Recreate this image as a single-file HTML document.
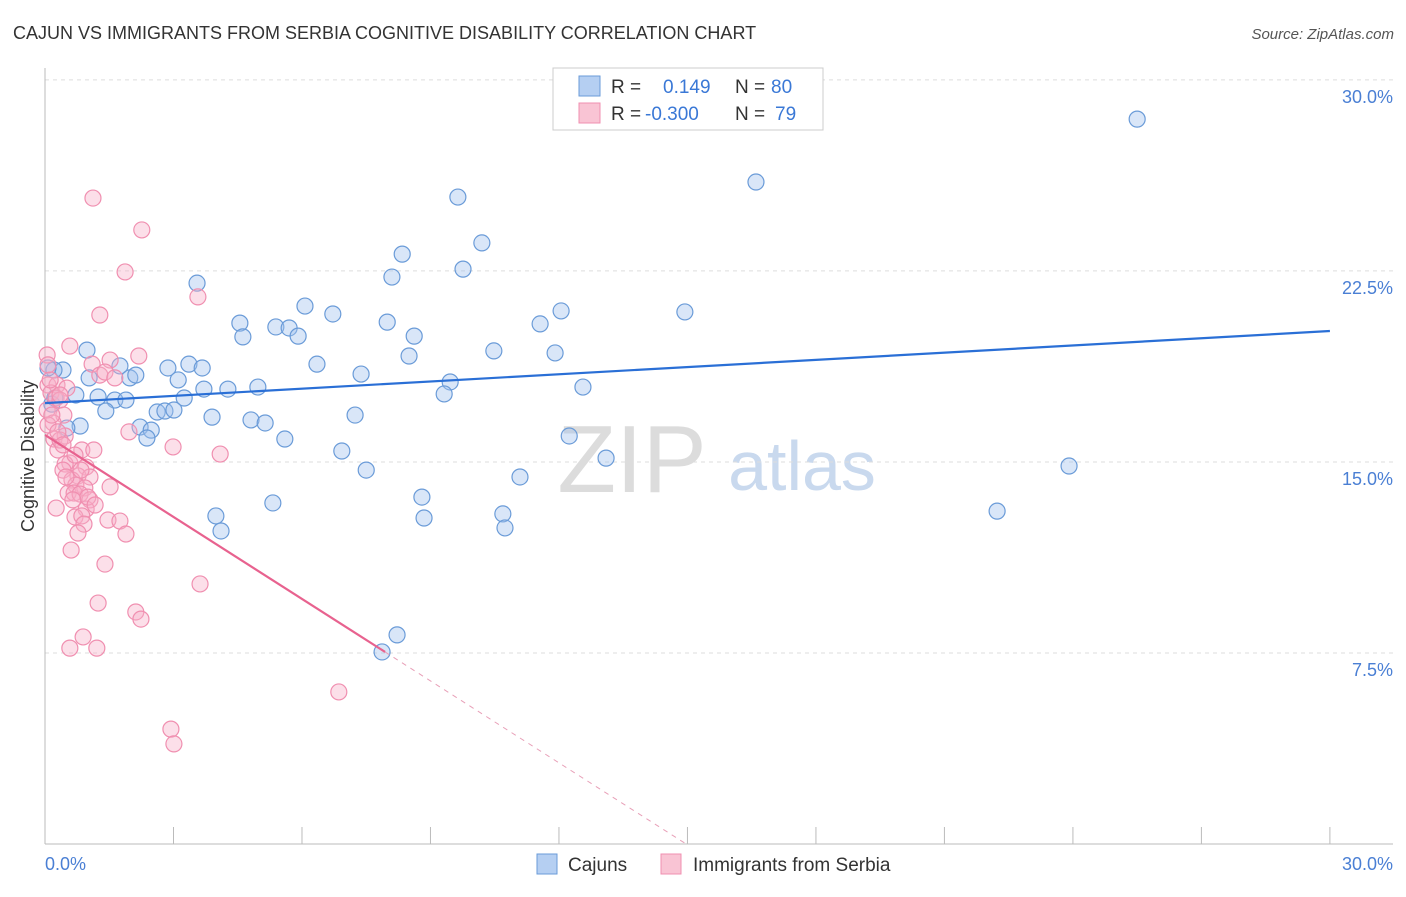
<!DOCTYPE html>
<html><head><meta charset="utf-8"><style>
body{margin:0;background:#fff;font-family:"Liberation Sans",sans-serif;}
svg text{font-family:"Liberation Sans",sans-serif;}
</style></head><body>
<svg id="chart" width="1406" height="892" viewBox="0 0 1406 892" xmlns="http://www.w3.org/2000/svg">
<text x="13" y="39" font-size="18" fill="#333">CAJUN VS IMMIGRANTS FROM SERBIA COGNITIVE DISABILITY CORRELATION CHART</text>
<text x="1394" y="39" font-size="15" fill="#555" text-anchor="end" font-style="italic">Source: ZipAtlas.com</text>
<g>
<text x="632" y="492" font-size="96" fill="#dcdcdc" text-anchor="middle" font-family="Liberation Serif">ZIP</text>
<text x="802" y="490" font-size="70" fill="#c9d9ee" text-anchor="middle">atlas</text>
</g>
<g id="grid"></g>
<g id="axes"></g>
<g id="pts"></g>
<g id="lines"></g>
<text transform="translate(34,456) rotate(-90)" font-size="18" fill="#333" text-anchor="middle">Cognitive Disability</text>
<text x="45" y="870" font-size="18" fill="#4a7fd4">0.0%</text>
<text x="1393" y="870" font-size="18" fill="#4a7fd4" text-anchor="end">30.0%</text>
<g>
<rect x="553" y="68" width="270" height="62" fill="#fff" stroke="#ccc"/>
<rect x="579" y="76" width="21" height="20" fill="#b5cff2" stroke="#6a9bd8"/>
<rect x="579" y="103" width="21" height="20" fill="#f9c4d4" stroke="#f08fb0"/>
<text x="611" y="93" font-size="19" fill="#333">R =</text>
<text x="663" y="93" font-size="19" fill="#3a78d6">0.149</text>
<text x="735" y="93" font-size="19" fill="#333">N =</text>
<text x="771" y="93" font-size="19" fill="#3a78d6">80</text>
<text x="611" y="120" font-size="19" fill="#333">R =</text>
<text x="645" y="120" font-size="19" fill="#3a78d6">-0.300</text>
<text x="735" y="120" font-size="19" fill="#333">N =</text>
<text x="775" y="120" font-size="19" fill="#3a78d6">79</text>
</g>
<g>
<rect x="537" y="854" width="20" height="20" fill="#b5cff2" stroke="#6a9bd8"/>
<text x="568" y="871" font-size="19" fill="#333">Cajuns</text>
<rect x="661" y="854" width="20" height="20" fill="#f9c4d4" stroke="#f08fb0"/>
<text x="693" y="871" font-size="19" fill="#333">Immigrants from Serbia</text>
</g>
</svg>
<script>
const yTicks=[7.5,15,22.5,30];
const yTickLabels=["7.5%","15.0%","22.5%","30.0%"];
const xTicks=[0,3,6,9,12,15,18,21,24,27,30];
const cajunX=[25.50,16.60,9.64,10.20,8.34,9.76,8.10,3.55,6.07,6.72,12.05,14.94,11.56,4.55,7.99,5.39,5.70,4.62,5.91,8.62,0.98,10.48,11.91,8.50,6.35,2.87,3.36,3.67,1.75,0.42,0.21,1.03,1.98,2.12,3.11,7.38,9.46,12.56,3.71,4.27,4.97,9.32,0.72,1.24,1.63,1.89,3.25,2.62,2.80,3.01,1.42,3.90,4.81,5.14,7.24,2.22,2.48,2.38,0.82,0.51,5.60,6.93,12.24,7.50,23.91,13.10,11.09,8.80,5.32,3.99,4.11,8.85,10.69,10.74,22.23,8.22,7.87,0.16,0.23,0.07];
const cajunY=[28.46,25.99,25.40,23.60,23.16,22.57,22.26,22.02,21.12,20.81,20.93,20.89,20.42,20.45,20.49,20.30,20.26,19.91,19.94,19.94,19.39,19.36,19.28,19.16,18.84,18.69,18.84,18.69,18.77,18.61,18.61,18.30,18.30,18.41,18.22,18.45,18.14,17.94,17.86,17.86,17.94,17.67,17.63,17.55,17.43,17.43,17.51,16.96,17.00,17.04,17.00,16.76,16.65,16.53,16.84,16.37,16.25,15.94,16.41,16.33,15.90,15.43,16.02,14.68,14.84,15.15,14.41,13.62,13.39,12.88,12.29,12.80,12.96,12.41,13.07,8.21,7.54,17.27,17.51,18.69];
const serbX=[1.12,2.26,1.87,3.57,1.28,0.58,0.05,1.52,2.19,1.10,0.07,0.28,0.51,1.28,1.40,0.14,0.26,0.35,0.05,0.44,0.19,1.96,2.99,0.21,0.47,4.09,0.86,1.14,0.30,0.58,0.47,0.96,0.42,0.77,1.05,0.63,1.52,0.72,0.93,0.54,0.68,0.82,1.05,0.26,0.96,0.70,0.86,1.47,1.75,0.91,0.77,1.89,0.61,1.40,3.62,1.24,2.12,2.24,0.89,0.58,1.21,6.86,2.94,3.01,0.12,0.07,0.35,0.70,1.00,1.17,0.49,0.16,0.35,1.63,0.07,0.30,0.65,0.84,0.42];
const serbY=[25.36,24.11,22.46,21.48,20.77,19.55,19.20,19.00,19.16,18.84,18.02,18.02,17.90,18.41,18.53,17.71,17.51,17.43,17.04,16.84,16.53,16.18,15.59,15.90,16.02,15.31,15.47,15.47,15.47,14.96,14.92,14.80,14.68,14.45,14.41,14.29,14.02,14.09,13.98,13.78,13.78,13.74,13.51,13.19,13.15,12.84,12.88,12.72,12.68,12.56,12.21,12.17,11.54,10.99,10.21,9.46,9.11,8.83,8.13,7.69,7.69,5.97,4.51,3.93,18.22,16.45,15.86,15.27,13.62,13.31,14.41,16.84,17.63,18.30,18.81,16.18,13.51,14.68,15.67];
const cajunTrend=[17.31,20.14];
const serbTrend=[16.06,7.54];
const serbTrendZeroX=14.97;
const serbSolidEndX=7.94;

const NS="http://www.w3.org/2000/svg";
const X=v=>45+v*42.83, Y=v=>844-v*25.47;
function mk(t,a,p){const e=document.createElementNS(NS,t);for(const k in a)e.setAttribute(k,a[k]);p.appendChild(e);return e;}
const grid=document.getElementById('grid'),axes=document.getElementById('axes'),pts=document.getElementById('pts'),lines=document.getElementById('lines');
yTicks.forEach((v,i)=>{
 const l=mk('line',{x1:45,x2:1393,y1:Y(v),y2:Y(v),stroke:'#ddd','stroke-dasharray':'4,4'},grid);
 
 
 const t=mk('text',{x:1393,y:Y(v)+23,'font-size':18,fill:'#4a7fd4','text-anchor':'end'},grid);
 t.textContent=yTickLabels[i];
 
 
});
const ya=mk('line',{x1:45,x2:45,y1:68,y2:844,stroke:'#bbb'},axes);


const xa=mk('line',{x1:45,x2:1393,y1:844,y2:844,stroke:'#bbb'},axes);


xTicks.forEach(v=>{
 const t=mk('line',{x1:X(v),x2:X(v),y1:827,y2:844,stroke:'#bbb'},axes);
 
 
});
function dots(xs,ys,fill,stroke,name){
 xs.forEach((x,i)=>{
  const c=mk('circle',{cx:X(x),cy:Y(ys[i]),r:8,fill:fill,stroke:stroke,'stroke-width':1.2},pts);
  
  
 });
}
dots(cajunX,cajunY,'rgba(160,192,238,0.4)','#6a9bd8','cajun-point');
dots(serbX,serbY,'rgba(247,176,200,0.4)','#f08fb0','serbia-point');
const bl=mk('line',{x1:X(0),y1:Y(cajunTrend[0]),x2:X(30),y2:Y(cajunTrend[1]),stroke:'#2a6fd6','stroke-width':2.2},lines);


const pl=mk('line',{x1:X(0),y1:Y(serbTrend[0]),x2:X(serbSolidEndX),y2:Y(serbTrend[1]),stroke:'#e8628f','stroke-width':2.2},lines);


const pd=mk('line',{x1:X(serbSolidEndX),y1:Y(serbTrend[1]),x2:X(serbTrendZeroX),y2:Y(0),stroke:'#e8a0b8','stroke-width':1,'stroke-dasharray':'5,5'},lines);


</script>
</body></html>
